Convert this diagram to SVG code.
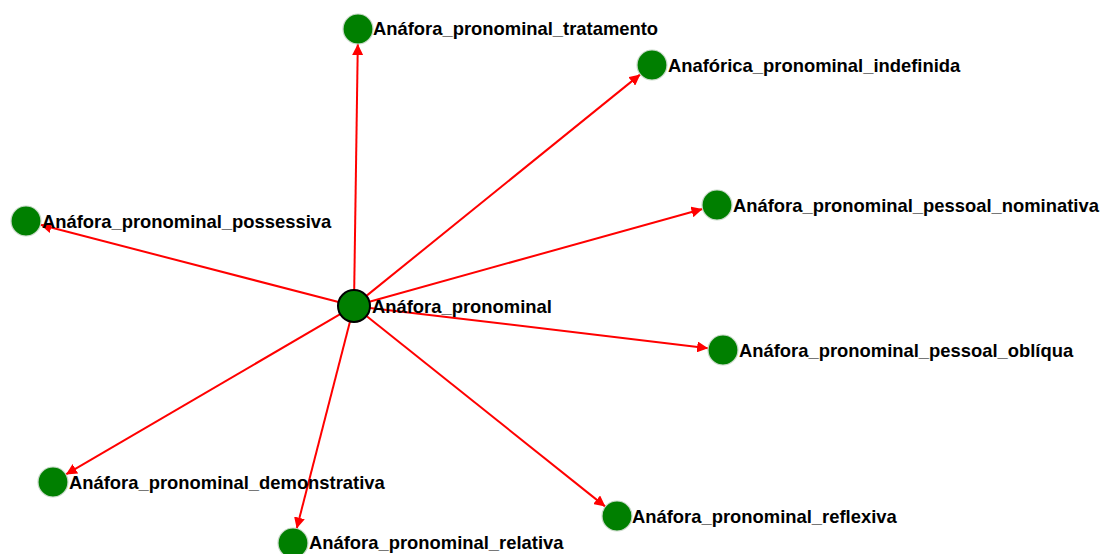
<svg xmlns="http://www.w3.org/2000/svg" width="1100" height="554" viewBox="0 0 1100 554">
  <defs>
    <marker id="arrow" viewBox="0 0 10 10" refX="10" refY="5" markerWidth="5.5" markerHeight="5.5" orient="auto" markerUnits="strokeWidth">
      <path d="M0,0 L10,5 L0,10 z" fill="#ff0000"/>
    </marker>
    <style>
      .edge { stroke: #ff0000; stroke-width: 2; fill: none; marker-end: url(#arrow); }
      .node { fill: #007f00; stroke: #c8d8c8; stroke-width: 1.2; }
      .hub { fill: #007f00; stroke: #000000; stroke-width: 2; }
      .label { font-family: "Liberation Sans", Arial, sans-serif; font-weight: bold; font-size: 18.4px; fill: #000000; }
    </style>
  </defs>
  <rect width="1100" height="554" fill="#ffffff"/>

  <g id="edges">
    <line class="edge" x1="354.2" y1="290.0" x2="357.8" y2="44.0"/>
    <line class="edge" x1="366.4" y1="295.9" x2="640.3" y2="74.4"/>
    <line class="edge" x1="369.4" y1="301.7" x2="702.5" y2="209.0"/>
    <line class="edge" x1="369.9" y1="307.9" x2="708.1" y2="348.2"/>
    <line class="edge" x1="366.5" y1="316.0" x2="605.3" y2="506.6"/>
    <line class="edge" x1="350.0" y1="321.5" x2="296.7" y2="528.5"/>
    <line class="edge" x1="340.2" y1="314.1" x2="65.9" y2="474.4"/>
    <line class="edge" x1="338.5" y1="302.0" x2="40.5" y2="224.8"/>
  </g>

  <g id="anafora_pronominal">
    <circle class="hub" cx="354" cy="306" r="16"/>
    <text class="label" x="372" y="313">Anáfora_pronominal</text>
  </g>
  <g id="tratamento">
    <circle class="node" cx="358" cy="29" r="15"/>
    <text class="label" x="373" y="35">Anáfora_pronominal_tratamento</text>
  </g>
  <g id="indefinida">
    <circle class="node" cx="652" cy="65" r="15"/>
    <text class="label" x="668" y="72">Anafórica_pronominal_indefinida</text>
  </g>
  <g id="pessoal_nominativa">
    <circle class="node" cx="717" cy="205" r="15"/>
    <text class="label" x="733" y="212">Anáfora_pronominal_pessoal_nominativa</text>
  </g>
  <g id="pessoal_obliqua">
    <circle class="node" cx="723" cy="350" r="15"/>
    <text class="label" x="739" y="357">Anáfora_pronominal_pessoal_oblíqua</text>
  </g>
  <g id="reflexiva">
    <circle class="node" cx="617" cy="516" r="15"/>
    <text class="label" x="632" y="523">Anáfora_pronominal_reflexiva</text>
  </g>
  <g id="relativa">
    <circle class="node" cx="293" cy="543" r="15"/>
    <text class="label" x="309" y="549">Anáfora_pronominal_relativa</text>
  </g>
  <g id="demonstrativa">
    <circle class="node" cx="53" cy="482" r="15"/>
    <text class="label" x="69" y="489">Anáfora_pronominal_demonstrativa</text>
  </g>
  <g id="possessiva">
    <circle class="node" cx="26" cy="221" r="15"/>
    <text class="label" x="42" y="228">Anáfora_pronominal_possessiva</text>
  </g>
</svg>
